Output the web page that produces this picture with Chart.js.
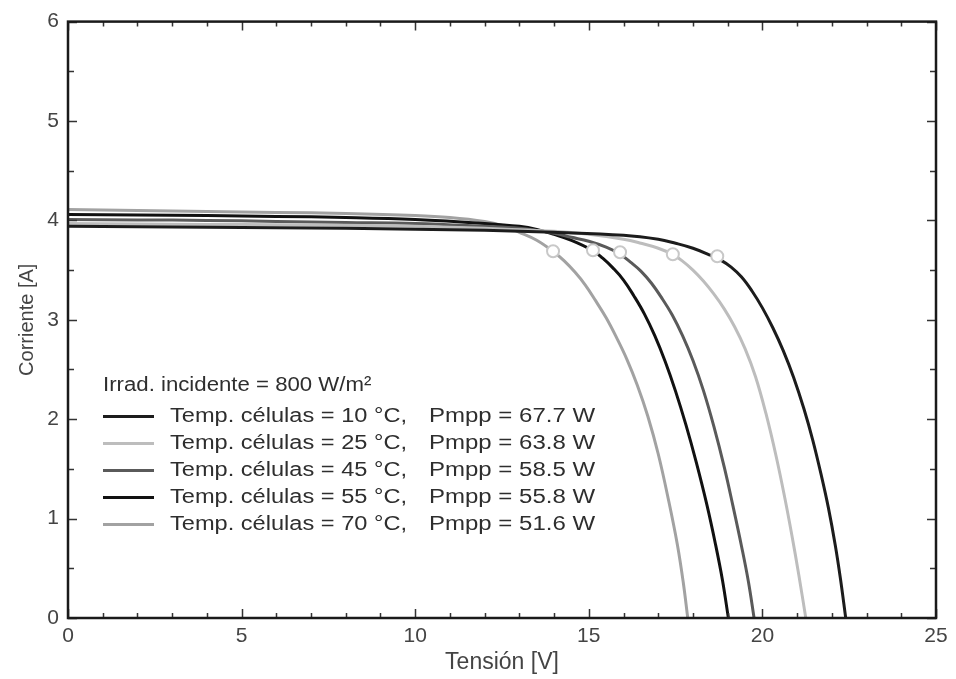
<!DOCTYPE html>
<html><head><meta charset="utf-8">
<script src="https://cdn.jsdelivr.net/npm/chart.js@4/dist/chart.umd.min.js"></script>
<style>html,body{margin:0;padding:0;background:#fff}#wrap{width:956px;height:679px}</style>
</head><body><div id="wrap"><canvas id="c" width="956" height="679"></canvas></div>
<script>
// ---- data ----
const xTickLabels = [0, 5, 10, 15, 20, 25];
const yTickLabels = [0, 1, 2, 3, 4, 5, 6];
const legendTitle = 'Irrad. incidente = 800 W/m²';
const seriesLabels = [
  'Temp. células = 10 °C,  Pmpp = 67.7 W',
  'Temp. células = 25 °C,  Pmpp = 63.8 W',
  'Temp. células = 45 °C,  Pmpp = 58.5 W',
  'Temp. células = 55 °C,  Pmpp = 55.8 W',
  'Temp. células = 70 °C,  Pmpp = 51.6 W'
];
const v10 = [0,2,4,6,8,10,12,14,16,17,17.5,18,18.5,18.8,19.1,19.4,19.7,20.0,20.3,20.6,20.9,21.2,21.45,21.7,21.9,22.1,22.25,22.4];
const i10 = [3.94,3.935,3.93,3.925,3.92,3.91,3.90,3.88,3.85,3.81,3.77,3.72,3.65,3.60,3.53,3.43,3.29,3.12,2.92,2.69,2.42,2.10,1.79,1.43,1.11,0.73,0.39,0];
const v25 = [0,2,4,6,8,10,12,14,15,16,16.5,17.0,17.4,17.7,18.0,18.3,18.6,18.9,19.2,19.5,19.8,20.1,20.4,20.65,20.85,21.05,21.25];
const i25 = [3.97,3.965,3.96,3.955,3.95,3.94,3.92,3.89,3.86,3.81,3.77,3.72,3.66,3.59,3.50,3.39,3.26,3.11,2.93,2.71,2.43,2.06,1.62,1.20,0.83,0.43,0];
const v45 = [0,2,4,6,8,10,12,13,14,14.5,15,15.5,15.9,16.2,16.5,16.8,17.1,17.4,17.7,18.0,18.3,18.6,18.9,19.15,19.4,19.6,19.76];
const i45 = [4.01,4.005,4.0,3.99,3.98,3.97,3.94,3.92,3.87,3.83,3.79,3.73,3.66,3.58,3.49,3.37,3.22,3.05,2.84,2.59,2.29,1.93,1.52,1.13,0.72,0.36,0];
const v55 = [0,2,4,6,8,10,12,13,13.5,14,14.5,15.1,15.4,15.7,16.0,16.3,16.6,16.9,17.2,17.5,17.8,18.1,18.4,18.65,18.85,19.02];
const i55 = [4.06,4.055,4.05,4.04,4.03,4.01,3.97,3.94,3.91,3.86,3.80,3.70,3.62,3.52,3.40,3.24,3.06,2.84,2.58,2.28,1.94,1.56,1.14,0.74,0.38,0];
const v70 = [0,2,4,6,8,10,11,12,12.5,13,13.5,14.0,14.3,14.6,14.9,15.2,15.5,15.8,16.1,16.4,16.7,17.0,17.3,17.55,17.72,17.85];
const i70 = [4.11,4.10,4.09,4.08,4.07,4.05,4.03,3.99,3.95,3.88,3.80,3.68,3.59,3.48,3.35,3.19,3.02,2.82,2.60,2.34,2.03,1.65,1.18,0.74,0.36,0];
const mppV = [18.7, 17.42, 15.90, 15.12, 13.97];
const mppI = [3.64, 3.66, 3.68, 3.70, 3.69];

// ---- styling ----
const seriesColors = ['#1c1c1c', '#bdbdbd', '#5a5a5a', '#111111', '#a2a2a2'];
const FONT = '"Liberation Sans", Arial, Helvetica, sans-serif';

const curves = [[v10,i10],[v25,i25],[v45,i45],[v55,i55],[v70,i70]];
const toPts = (xs, ys) => xs.map((x, k) => ({x, y: ys[k]}));

const datasets = curves.map((c, k) => ({
  label: seriesLabels[k],
  data: toPts(c[0], c[1]),
  showLine: true,
  borderColor: seriesColors[k],
  borderWidth: 3,
  pointRadius: 0,
  fill: false,
  tension: 0.4,
  order: 1 + k
}));
datasets.push({
  label: 'MPP',
  data: toPts(mppV, mppI),
  showLine: false,
  pointRadius: 6,
  pointBorderWidth: 2,
  pointBorderColor: '#c8c8c8',
  pointBackgroundColor: '#ffffff',
  order: 0
});

function drawStretched(ctx, text, x, y, sx) {
  ctx.save();
  ctx.translate(x, y);
  ctx.scale(sx, 1);
  ctx.fillText(text, 0, 0);
  ctx.restore();
}

const boxPlugin = {
  id: 'boxTicks',
  afterDatasetsDraw(chart) {
    const {ctx, chartArea: a, scales: {x, y}} = chart;
    ctx.save();
    ctx.strokeStyle = '#333';
    ctx.lineWidth = 1.5;
    ctx.beginPath();
    for (let v = 0; v <= 25; v += 1) {
      const px = Math.round(x.getPixelForValue(v)) + 0.5;
      const len = v % 5 === 0 ? 9 : 5;
      ctx.moveTo(px, a.bottom); ctx.lineTo(px, a.bottom - len);
      ctx.moveTo(px, a.top); ctx.lineTo(px, a.top + len);
    }
    for (let v = 0; v <= 6; v += 0.5) {
      const py = Math.round(y.getPixelForValue(v)) + 0.5;
      const len = Number.isInteger(v) ? 9 : 6;
      ctx.moveTo(a.left, py); ctx.lineTo(a.left + len, py);
      ctx.moveTo(a.right, py); ctx.lineTo(a.right - len, py);
    }
    ctx.stroke();
    ctx.lineWidth = 2.5;
    ctx.strokeStyle = '#1a1a1a';
    ctx.strokeRect(a.left, a.top, a.right - a.left, a.bottom - a.top);
    ctx.restore();
  },
  afterDraw(chart) {
    const {ctx, chartArea: a} = chart;
    ctx.save();
    ctx.font = '20px ' + FONT;
    ctx.textBaseline = 'middle';
    ctx.fillStyle = '#2e2e2e';
    const x0 = a.left + 35;
    drawStretched(ctx, legendTitle, x0, a.top + 364, 1.11);
    for (let k = 0; k < seriesLabels.length; k++) {
      const yy = a.top + 395 + k * 27;
      ctx.strokeStyle = seriesColors[k];
      ctx.lineWidth = 3;
      ctx.beginPath();
      ctx.moveTo(x0, yy); ctx.lineTo(x0 + 51, yy);
      ctx.stroke();
      const parts = seriesLabels[k].split('  ');
      drawStretched(ctx, parts[0], x0 + 67, yy, 1.18);
      drawStretched(ctx, parts[1], x0 + 326, yy, 1.2);
    }
    ctx.restore();
  }
};

new Chart(document.getElementById('c'), {
  type: 'scatter',
  data: { datasets },
  options: {
    responsive: false,
    animation: false,
    devicePixelRatio: 1,
    layout: { padding: { top: 20, right: 20, left: 0, bottom: 0 } },
    plugins: { legend: { display: false }, tooltip: { enabled: false } },
    scales: {
      x: {
        type: 'linear', min: 0, max: 25,
        afterBuildTicks: s => { s.ticks = xTickLabels.map(v => ({ value: v })); },
        afterFit: s => { s.height = 61; },
        grid: { display: false, drawTicks: false },
        border: { display: false },
        ticks: { color: '#444', font: { family: FONT, size: 21 }, padding: 6 },
        title: { display: true, text: 'Tensión [V]', color: '#444', font: { family: FONT, size: 23 }, padding: { top: 0, bottom: 3 } }
      },
      y: {
        type: 'linear', min: 0, max: 6,
        afterBuildTicks: s => { s.ticks = yTickLabels.map(v => ({ value: v })); },
        afterFit: s => { s.width = 68; },
        grid: { display: false, drawTicks: false },
        border: { display: false },
        ticks: { color: '#444', font: { family: FONT, size: 21 }, padding: 9 },
        title: { display: true, text: 'Corriente [A]', color: '#444', font: { family: FONT, size: 20 }, padding: { top: 15, bottom: 0 } }
      }
    }
  },
  plugins: [boxPlugin]
});
</script>
</body></html>
